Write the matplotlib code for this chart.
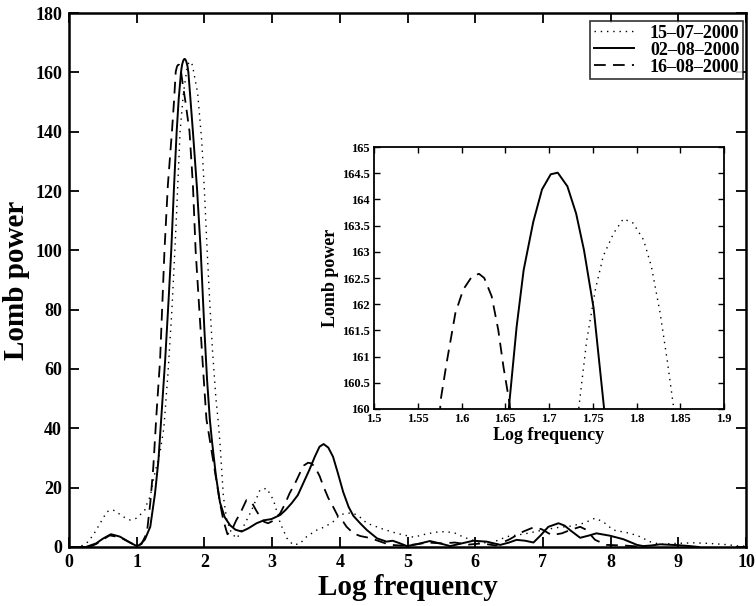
import matplotlib
matplotlib.use("Agg")
import matplotlib.pyplot as plt

plt.rcParams['font.family'] = ['Liberation Serif', 'DejaVu Serif']
plt.rcParams['font.weight'] = 'bold'

# ---- data: 15-07-2000 (dotted)
x_d1 = [0, 0.1, 0.2, 0.285, 0.37, 0.46, 0.56, 0.65, 0.72, 0.80, 0.90, 1.0, 1.08, 1.12, 1.17, 1.20,
        1.245, 1.29, 1.345, 1.40, 1.46, 1.52, 1.58, 1.64, 1.69, 1.7346, 1.743, 1.753, 1.762, 1.774,
        1.785, 1.796, 1.808, 1.817, 1.827, 1.835, 1.842, 1.90, 1.96, 2.0, 2.04, 2.08, 2.12, 2.17,
        2.205, 2.23, 2.255, 2.28, 2.33, 2.40, 2.48, 2.575, 2.70, 2.82, 2.92, 3.02, 3.12, 3.22, 3.31,
        3.41, 3.51, 3.66, 3.78, 3.90, 4.0, 4.10, 4.20, 4.30, 4.40, 4.52, 4.64, 4.84, 5.09, 5.28, 5.48,
        5.68, 5.83, 6.02, 6.22, 6.47, 6.75, 7.0, 7.2, 7.4, 7.60, 7.77, 7.89, 8.04, 8.29, 8.43, 8.58,
        8.73, 8.97, 9.22, 9.46, 9.71, 9.9, 10.0]
y_d1 = [0, 0, 0.5, 1.8, 4.5, 8, 11.9, 12.5, 11.5, 10.2, 9.1, 9.7, 11.5, 12.5, 15.8, 17,
        22.6, 27, 32, 40, 58, 80, 108, 140, 153, 160.1, 161.3, 162.28, 162.92, 163.36,
        163.63, 163.55, 163.23, 162.72, 161.83, 160.94, 160.08, 153, 137, 120, 100, 82, 66, 50,
        42, 35, 26, 17, 9.1, 4.6, 2.9, 6.8, 12.5, 19.2, 19.8, 15.8, 8, 2.9, 0.7,
        1.1, 3.5, 5.7, 6.8, 8.5, 10.8, 11.4, 11.4, 10, 8, 7, 6, 4.6, 3.3, 4.4, 5.2,
        4.9, 3.3, 1.8, 1.2, 3.5, 4.5, 5.7, 6.5, 7, 8, 9.7, 8.5, 5.7, 4.6, 3.5, 1.8,
        0.9, 1.2, 1.4, 1.2, 0.8, 0.3, 0.3]

# ---- data: 02-08-2000 (solid)
x_d2 = [0, 0.25, 0.4, 0.5, 0.62, 0.75, 0.9, 1.0, 1.05, 1.12, 1.2, 1.27, 1.32, 1.37, 1.42, 1.47,
        1.51, 1.55, 1.59, 1.62, 1.654, 1.663, 1.671, 1.682, 1.692, 1.702, 1.710, 1.721, 1.731,
        1.740, 1.751, 1.763, 1.79, 1.83, 1.89, 1.945, 2.0, 2.04, 2.08, 2.11, 2.17, 2.23, 2.3,
        2.38, 2.46, 2.55, 2.65, 2.77, 2.88, 2.99, 3.12, 3.2, 3.29, 3.38, 3.46, 3.55, 3.63, 3.70,
        3.76, 3.83, 3.90, 3.97, 4.05, 4.13, 4.20, 4.30, 4.40, 4.55, 4.69, 4.78, 4.88, 4.99, 5.15,
        5.33, 5.48, 5.63, 5.8, 5.97, 6.17, 6.37, 6.5, 6.61, 6.74, 6.86, 6.97, 7.08, 7.23, 7.32,
        7.40, 7.55, 7.67, 7.79, 7.99, 8.19, 8.39, 8.48, 8.6, 8.73, 9.0, 9.17, 9.3]
y_d2 = [0, 0, 1.2, 2.8, 4.3, 3.5, 1.5, 0.3, 0.8, 2.5, 6.8, 18, 29, 46, 63, 83,
        100, 121, 140, 151, 160, 161.57, 162.65, 163.57, 164.19, 164.48, 164.51, 164.25, 163.73,
        163.03, 161.92, 160.0, 152, 140, 121, 100, 73, 56, 43, 36, 24, 15, 10,
        7.3, 5.8, 5.2, 6.3, 8, 9, 9.4, 10.8, 12.5, 14.8, 17.5, 21.5, 26, 30.4, 33.8,
        34.7, 33.5, 30.4, 25, 18.5, 13.5, 10.5, 8, 5.7, 2.9, 1.8, 2.1, 1.3, 0.3, 1.0,
        2.0, 1.2, 0.3, 1.2, 2.1, 1.8, 0.7, 1.5, 2.4, 2.1, 1.5, 4, 6.8, 8, 7.2,
        5.7, 3.1, 3.8, 4.6, 3.8, 2.6, 0.7, 0.3, 0.5, 0.9, 0.6, 0.3, 0]

# ---- data: 16-08-2000 (dashed)
x_d3 = [0, 0.3, 0.4, 0.5, 0.6, 0.75, 0.9, 1.0, 1.07, 1.15, 1.20, 1.245, 1.295, 1.345, 1.41, 1.46,
        1.52, 1.55, 1.576, 1.583, 1.593, 1.602, 1.612, 1.620, 1.626, 1.6345, 1.642, 1.648, 1.655,
        1.68, 1.72, 1.78, 1.83, 1.87, 1.93, 1.98, 2.03, 2.08, 2.13, 2.18, 2.23, 2.28, 2.34, 2.40,
        2.47, 2.53, 2.62, 2.70, 2.76, 2.82, 2.88, 2.94, 3.03, 3.12, 3.19, 3.26, 3.34, 3.41, 3.47,
        3.53, 3.58, 3.63, 3.70, 3.76, 3.83, 3.90, 3.98, 4.05, 4.10, 4.20, 4.30, 4.45, 4.6, 4.74,
        4.9, 5.1, 5.3, 5.5, 5.7, 5.9, 6.1, 6.3, 6.5, 6.71, 6.86, 6.98, 7.13, 7.28, 7.40, 7.55,
        7.64, 7.77, 7.94, 8.2, 8.5]
y_d3 = [0, 0, 1.0, 2.5, 3.9, 3.3, 1.5, 0.4, 1.0, 4.7, 14.8, 27, 46, 63, 100, 122,
        140, 150, 160.15, 160.88, 161.83, 162.28, 162.53, 162.58, 162.5, 162.15, 161.51, 160.8, 160.1,
        156, 150, 140, 122, 100, 78, 60, 43, 36, 29, 22, 14.8, 9, 4.3, 5.5,
        9, 11.4, 15.8, 15, 12.5, 10.2, 8.5, 8, 9, 11.4, 14.5, 18.2, 21.5, 24.9, 27.5,
        28.4, 28.2, 27, 24, 20.3, 16.5, 13.6, 10, 8.5, 6.8, 4.6, 3.7, 3.0, 1.8, 0.7,
        0.5, 0.8, 1.5, 1.2, 1.5, 0.8, 1.2, 0.5, 2.5, 5.2, 6.6, 6, 4, 4.6, 5.7, 6.8,
        5.8, 2.4, 0.7, 0.5, 0]

labels = ['15\u201307\u20132000', '02\u201308\u20132000', '16\u201308\u20132000']
main_xticks = list(range(0, 11))
main_yticks = list(range(0, 181, 20))
inset_xticks = [1.5, 1.55, 1.6, 1.65, 1.7, 1.75, 1.8, 1.85, 1.9]
inset_yticks = [160, 160.5, 161, 161.5, 162, 162.5, 163, 163.5, 164, 164.5, 165]

series = [(x_d1, y_d1), (x_d2, y_d2), (x_d3, y_d3)]
styles = [dict(linestyle=(0, (1, 3.5)), linewidth=1.0),
          dict(linestyle='-', linewidth=1.4),
          dict(linestyle=(0, (6.5, 4)), linewidth=1.3)]

fig = plt.figure(figsize=(7.56, 6.06), dpi=100)
ax = fig.add_axes([0.0913, 0.0974, 0.8955, 0.8811])
for (xs, ys), st, lab in zip(series, styles, labels):
    ax.plot(xs, ys, color='black', label=lab, **st)
ax.set_xlim(0, 10)
ax.set_ylim(0, 180)
ax.set_xticks(main_xticks)
ax.set_yticks(main_yticks)
ax.tick_params(direction='in', top=True, right=True, length=7, width=1.3,
               labelsize=13, pad=5)
for s in ax.spines.values():
    s.set_linewidth(1.8)
ax.set_xlabel('Log frequency', fontsize=21, fontweight='bold', labelpad=2)
ax.set_ylabel('Lomb power', fontsize=21, fontweight='bold', labelpad=4)
for t in ax.get_xticklabels() + ax.get_yticklabels():
    t.set_fontweight('bold')
leg = ax.legend(loc='upper right', bbox_to_anchor=(0.9956, 0.985), fontsize=13,
                frameon=True, fancybox=False, borderaxespad=0.0, handlelength=2.2,
                handletextpad=0.9, borderpad=0.2, labelspacing=0.0)
leg.get_frame().set_edgecolor('black')
leg.get_frame().set_linewidth(1.2)
for t in leg.get_texts():
    t.set_fontweight('bold')

axi = fig.add_axes([0.4947, 0.3251, 0.4630, 0.4323])
for (xs, ys), st in zip(series, styles):
    axi.plot(xs, ys, color='black', **st)
axi.set_xlim(1.5, 1.9)
axi.set_ylim(160, 165)
axi.set_xticks(inset_xticks)
axi.set_yticks(inset_yticks)
axi.set_xticklabels([('%g' % v) for v in inset_xticks])
axi.set_yticklabels([('%g' % v) for v in inset_yticks])
axi.tick_params(direction='in', top=True, right=True, length=4, width=1.0,
                labelsize=9, pad=3)
for s in axi.spines.values():
    s.set_linewidth(1.3)
axi.set_xlabel('Log frequency', fontsize=13, fontweight='bold', labelpad=1)
axi.set_ylabel('Lomb power', fontsize=13, fontweight='bold', labelpad=2)
for t in axi.get_xticklabels() + axi.get_yticklabels():
    t.set_fontweight('bold')

fig.savefig('out.png', dpi=100)
